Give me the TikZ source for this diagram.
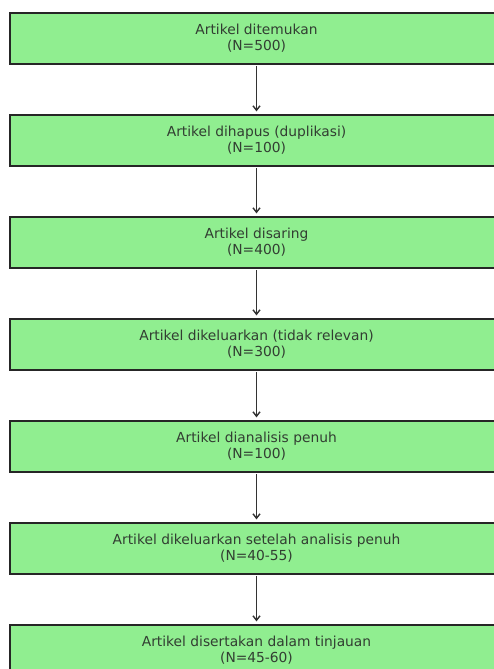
\documentclass[tikz,border=0pt]{standalone}
\usepackage{fontspec}
\setmainfont{DejaVu Sans}
\usetikzlibrary{arrows.meta, positioning}
\definecolor{boxgreen}{RGB}{144,238,144}
\definecolor{textgray}{RGB}{50,62,50}

\begin{document}
\begin{tikzpicture}[node distance=49.8pt, auto,
    stagebox/.style={draw=black!85, line width=1.2pt, fill=boxgreen, text=textgray,
        minimum width=493pt, minimum height=51pt, inner sep=0pt, align=center,
        font=\fontsize{13.8}{16}\selectfont},
    flowarrow/.style={-{Straight Barb[length=4.5pt, width=7pt]}, line width=1.4pt, black!80,
        shorten <=1.5pt, shorten >=3pt}]
    \useasboundingbox (0,0) rectangle (493pt,-669pt);

    % Stages of the review
    \node (found) [stagebox] at (256.5pt,-38.5pt) {Artikel ditemukan\\(N=500)};
    \node (dupl) [stagebox, below=of found] {Artikel dihapus (duplikasi)\\(N=100)};
    \node (screen) [stagebox, below=of dupl] {Artikel disaring\\(N=400)};
    \node (excl) [stagebox, below=of screen] {Artikel dikeluarkan (tidak relevan)\\(N=300)};
    \node (full) [stagebox, below=of excl] {Artikel dianalisis penuh\\(N=100)};
    \node (exclfull) [stagebox, below=of full] {Artikel dikeluarkan setelah analisis penuh\\(N=40-55)};
    \node (incl) [stagebox, below=of exclfull] {Artikel disertakan dalam tinjauan\\(N=45-60)};

    % Arrows
    \draw[flowarrow] (found) -- (dupl);
    \draw[flowarrow] (dupl) -- (screen);
    \draw[flowarrow] (screen) -- (excl);
    \draw[flowarrow] (excl) -- (full);
    \draw[flowarrow] (full) -- (exclfull);
    \draw[flowarrow] (exclfull) -- (incl);
\end{tikzpicture}
\end{document}
